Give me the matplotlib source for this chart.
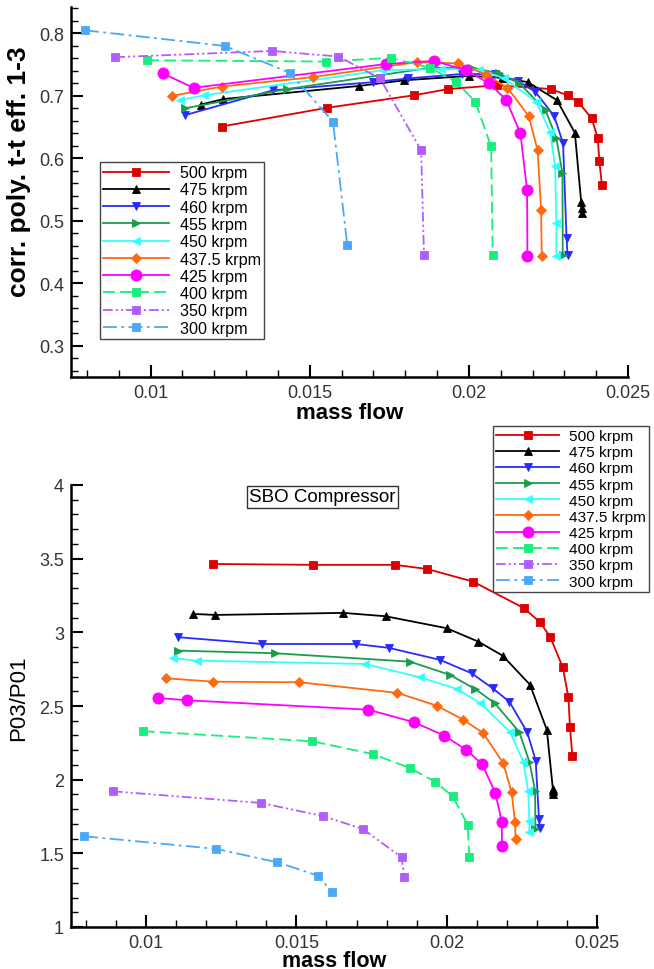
import matplotlib
matplotlib.use("Agg")
import matplotlib.pyplot as plt
from matplotlib.ticker import MultipleLocator

plt.rcParams['font.family'] = ['Liberation Sans', 'DejaVu Sans']
plt.rcParams['lines.scale_dashes'] = False

labels = ["500 krpm", "475 krpm", "460 krpm", "455 krpm", "450 krpm",
          "437.5 krpm", "425 krpm", "400 krpm", "350 krpm", "300 krpm"]

mf_500 = [0.01223, 0.01555, 0.01828, 0.01935, 0.02088, 0.02257, 0.02310, 0.02344, 0.02386, 0.02405, 0.02410, 0.02418]
pr_500 = [3.464, 3.458, 3.458, 3.430, 3.344, 3.164, 3.069, 2.971, 2.763, 2.559, 2.356, 2.163]
ef_500 = [0.651, 0.681, 0.701, 0.711, 0.717, 0.711, 0.701, 0.690, 0.664, 0.632, 0.596, 0.557]

mf_475 = [0.01157, 0.01229, 0.01656, 0.01797, 0.02000, 0.02105, 0.02186, 0.02277, 0.02333, 0.02353, 0.02354, 0.02355]
pr_475 = [3.125, 3.118, 3.132, 3.109, 3.028, 2.937, 2.842, 2.645, 2.339, 1.940, 1.920, 1.900]
ef_475 = [0.686, 0.695, 0.716, 0.725, 0.732, 0.729, 0.722, 0.693, 0.641, 0.530, 0.521, 0.512]

mf_460 = [0.01107, 0.01385, 0.01698, 0.01809, 0.01978, 0.02083, 0.02153, 0.02208, 0.02268, 0.02296, 0.02307, 0.02310]
pr_460 = [2.967, 2.921, 2.921, 2.894, 2.813, 2.722, 2.620, 2.530, 2.322, 2.129, 1.733, 1.670]
ef_460 = [0.669, 0.709, 0.722, 0.728, 0.735, 0.735, 0.724, 0.707, 0.668, 0.624, 0.472, 0.445]

mf_455 = [0.01107, 0.01429, 0.01878, 0.02011, 0.02094, 0.02159, 0.02241, 0.02275, 0.02294, 0.02295]
pr_455 = [2.876, 2.858, 2.801, 2.711, 2.616, 2.521, 2.324, 2.122, 1.925, 1.665]
ef_455 = [0.680, 0.711, 0.745, 0.745, 0.736, 0.720, 0.677, 0.632, 0.576, 0.445]

mf_450 = [0.01091, 0.01169, 0.01728, 0.01911, 0.02033, 0.02111, 0.02211, 0.02255, 0.02271, 0.02275, 0.02275]
pr_450 = [2.824, 2.808, 2.785, 2.695, 2.616, 2.521, 2.322, 2.122, 1.925, 1.722, 1.643]
ef_450 = [0.693, 0.701, 0.741, 0.743, 0.742, 0.728, 0.691, 0.643, 0.587, 0.496, 0.443]

mf_4375 = [0.01067, 0.01224, 0.01510, 0.01836, 0.01967, 0.02055, 0.02121, 0.02188, 0.02216, 0.02227, 0.02229]
pr_4375 = [2.688, 2.665, 2.661, 2.589, 2.502, 2.407, 2.317, 2.113, 1.914, 1.715, 1.597]
ef_4375 = [0.700, 0.715, 0.730, 0.754, 0.752, 0.734, 0.713, 0.668, 0.613, 0.518, 0.444]

mf_425 = [0.01038, 0.01135, 0.01739, 0.01891, 0.01992, 0.02064, 0.02117, 0.02162, 0.02183, 0.02184]
pr_425 = [2.555, 2.539, 2.475, 2.390, 2.299, 2.204, 2.107, 1.910, 1.715, 1.552]
ef_425 = [0.736, 0.713, 0.751, 0.756, 0.741, 0.720, 0.694, 0.640, 0.549, 0.443]

mf_400 = [0.00989, 0.01551, 0.01754, 0.01878, 0.01961, 0.02020, 0.02070, 0.02075]
pr_400 = [2.329, 2.261, 2.174, 2.079, 1.986, 1.887, 1.692, 1.473]
ef_400 = [0.757, 0.755, 0.761, 0.745, 0.722, 0.691, 0.619, 0.446]

mf_350 = [0.00889, 0.01382, 0.01590, 0.01721, 0.01850, 0.01859]
pr_350 = [1.921, 1.842, 1.752, 1.665, 1.473, 1.337]
ef_350 = [0.762, 0.772, 0.763, 0.728, 0.613, 0.446]

mf_300 = [0.00794, 0.01233, 0.01437, 0.01573, 0.01618]
pr_300 = [1.616, 1.530, 1.439, 1.348, 1.236]
ef_300 = [0.805, 0.780, 0.737, 0.659, 0.461]

mass_flows = [mf_500, mf_475, mf_460, mf_455, mf_450, mf_4375, mf_425, mf_400, mf_350, mf_300]
pressure_ratios = [pr_500, pr_475, pr_460, pr_455, pr_450, pr_4375, pr_425, pr_400, pr_350, pr_300]
efficiencies = [ef_500, ef_475, ef_460, ef_455, ef_450, ef_4375, ef_425, ef_400, ef_350, ef_300]

colors = ['#dd0000', '#000000', '#2a2aff', '#1a9e4c', '#33ffff',
          '#ff6a10', '#ff00ff', '#17ee7c', '#b05cff', '#4aa8f8']
markers = ['s', '^', 'v', '>', '<', 'D', 'o', 's', 's', 's']
msizes = [5.2, 5.5, 6, 6, 6, 5, 8, 5.5, 5.5, 5.5]
styles = ['-', '-', '-', '-', '-', '-', '-',
          (0, (8.5, 3.8)),
          (0, (7, 2.2, 1.5, 2.2, 1.5, 2.2)),
          (0, (10, 3.2, 2, 3.2))]

W, H = 654, 970
fig = plt.figure(figsize=(W / 100, H / 100), dpi=100)


def px_axes(x0, x1, y0, y1):
    return fig.add_axes([x0 / W, 1 - y1 / H, (x1 - x0) / W, (y1 - y0) / H])


def style_axes(ax):
    for s in ['top', 'right']:
        ax.spines[s].set_visible(False)
    for s in ['left', 'bottom']:
        ax.spines[s].set_linewidth(1.8)
    ax.tick_params(which='both', direction='in', labelsize=13, labelcolor='#333333')
    ax.tick_params(which='major', length=8.5, width=1.5, pad=5)
    ax.tick_params(which='minor', length=5, width=1.0)
    ax.xaxis.set_major_locator(MultipleLocator(0.005))
    ax.xaxis.set_minor_locator(MultipleLocator(0.001))
    ax.xaxis.set_major_formatter(matplotlib.ticker.FuncFormatter(lambda v, p: ('%g' % round(v, 4))))


def add_legend(ax, x, y, fs):
    leg = ax.legend(loc='upper left', bbox_to_anchor=(x / W, 1 - y / H),
                    bbox_transform=fig.transFigure, fontsize=fs, handlelength=4.1,
                    handletextpad=0.65, labelspacing=0.14, borderpad=0.2, borderaxespad=0,
                    fancybox=False, framealpha=1, edgecolor='#444444', numpoints=1)
    leg.get_frame().set_linewidth(1.0)
    return leg


# ---------- top: efficiency ----------
ax1 = px_axes(71, 628, 8.2, 378)
for mf, ef, c, m, ms, ls, lab in zip(mass_flows, efficiencies, colors, markers, msizes, styles, labels):
    ax1.plot(mf, ef, color=c, marker=m, markersize=ms, linestyle=ls, linewidth=1.3,
             markeredgewidth=0.6, label=lab)
ax1.set_xlim(0.0075, 0.025)
ax1.set_ylim(0.25, 0.842)
style_axes(ax1)
ax1.yaxis.set_major_locator(MultipleLocator(0.1))
ax1.yaxis.set_minor_locator(MultipleLocator(0.02))
ax1.yaxis.set_major_formatter(matplotlib.ticker.FuncFormatter(lambda v, p: ('%g' % round(v, 3))))
ax1.set_xlabel('mass flow', fontsize=16, fontweight='bold', labelpad=1)
ax1.set_ylabel('corr. poly. t-t eff. 1-3', fontsize=19, fontweight='bold')
ax1.yaxis.set_label_coords(7 / W, 1 - 172 / H, transform=fig.transFigure)
ax1.yaxis.label.set_verticalalignment('top')
add_legend(ax1, 100, 163, 11.6)

# ---------- bottom: pressure ratio ----------
ax2 = px_axes(71, 597, 486, 928)
for mf, pr, c, m, ms, ls, lab in zip(mass_flows, pressure_ratios, colors, markers, msizes, styles, labels):
    ax2.plot(mf, pr, color=c, marker=m, markersize=ms, linestyle=ls, linewidth=1.3,
             markeredgewidth=0.6, label=lab)
ax2.set_xlim(0.0075, 0.025)
ax2.set_ylim(1, 4)
style_axes(ax2)
ax2.yaxis.set_major_locator(MultipleLocator(0.5))
ax2.yaxis.set_minor_locator(MultipleLocator(0.1))
ax2.yaxis.set_major_formatter(matplotlib.ticker.FuncFormatter(lambda v, p: ('%g' % round(v, 2))))
ax2.set_xlabel('mass flow', fontsize=15.5, fontweight='bold', labelpad=-1)
ax2.set_ylabel('P03/P01', fontsize=16)
ax2.yaxis.set_label_coords(8 / W, 1 - 698 / H, transform=fig.transFigure)
ax2.yaxis.label.set_verticalalignment('top')
add_legend(ax2, 493, 427, 11.1)

fig.text(322 / W, 1 - 498 / H, 'SBO Compressor', fontsize=13.5, ha='center', va='center',
         bbox=dict(boxstyle='square,pad=0.12', facecolor='white', edgecolor='#333333', linewidth=1.0))

fig.savefig('out.png', dpi=100)
